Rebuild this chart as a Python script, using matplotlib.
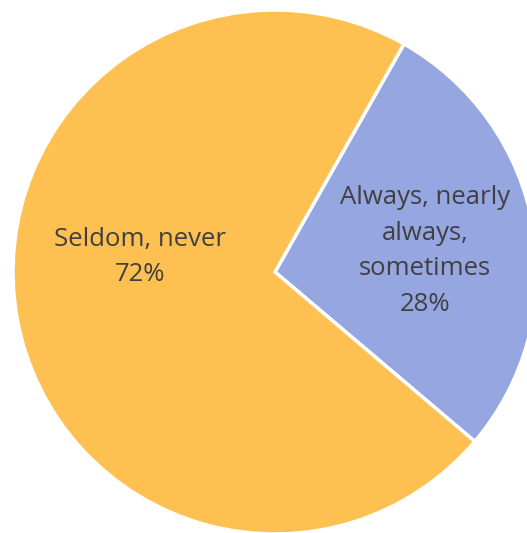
import matplotlib.pyplot as plt

# data
labels = ['Always, nearly\nalways,\nsometimes', 'Seldom, never']
values = [28, 72]
colors = ['#96A6E0', '#FEC050']

W, H = 527, 533
fig = plt.figure(figsize=(W / 100, H / 100), dpi=100)
ax = fig.add_axes([0, 0, 1, 1])

cx, cy, r = 275, H - 272, 262
ax.pie(values, colors=colors, startangle=60.5, counterclock=False,
       center=(cx, cy), radius=r, frame=True,
       wedgeprops=dict(edgecolor='white', linewidth=2.5))
ax.set_xlim(0, W)
ax.set_ylim(0, H)
ax.set_aspect('equal')
ax.axis('off')

txt = dict(ha='center', va='center', fontsize=18.5, color='#404040',
           family='Open Sans', linespacing=1.55)
ax.text(cx + 150, cy + 21, labels[0] + '\n%d%%' % values[0], **txt)
ax.text(cx - 135, cy + 15, labels[1] + '\n%d%%' % values[1], **txt)

fig.savefig('out.png', dpi=100)
